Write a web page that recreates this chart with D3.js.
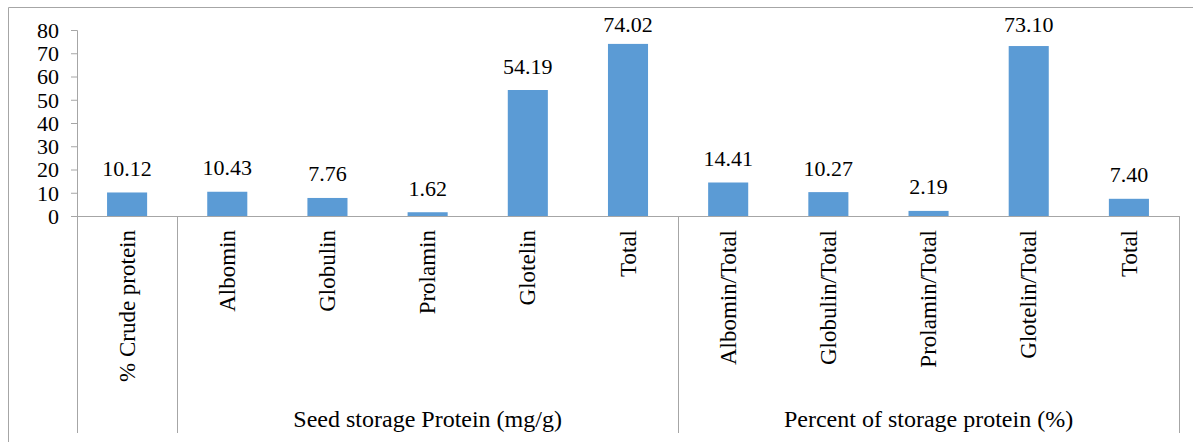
<!DOCTYPE html>
<html><head><meta charset="utf-8">
<script src="https://cdn.jsdelivr.net/npm/d3@7"></script>
<style>body{margin:0;background:#fff}svg{display:block}</style>
</head><body><svg id="c" width="1198" height="442"></svg>
<script>
const categories = ["% Crude protein","Albomin","Globulin","Prolamin","Glotelin","Total","Albomin/Total","Globulin/Total","Prolamin/Total","Glotelin/Total","Total "];
const values = [10.12,10.43,7.76,1.62,54.19,74.02,14.41,10.27,2.19,73.10,7.40];
const labels = ["10.12","10.43","7.76","1.62","54.19","74.02","14.41","10.27","2.19","73.10","7.40"];
const groups = [{name:"",from:0,to:0},{name:"Seed storage Protein (mg/g)",from:1,to:5},{name:"Percent of storage protein (%)",from:6,to:10}];
const yTicks = [0,10,20,30,40,50,60,70,80];

const FONT = "'Liberation Serif', 'Times New Roman', Times, serif";
const FS = "22px";
const svg = d3.select("#c");
const L=77, R=1179, T=30, B=216;
const x = d3.scaleBand().domain(d3.range(categories.length)).range([L,R]).paddingInner(0.6).paddingOuter(0.3);
const y = d3.scaleLinear().domain([0,80]).range([B,T]);
const grey="#a6a6a6";

// outer border (top & left)
svg.append("path").attr("d","M8.5,442 V7.5 H1193").attr("fill","none").attr("stroke",grey).attr("stroke-width",1);

// y axis
const ya = svg.append("g").attr("transform",`translate(${L},0)`).call(d3.axisLeft(y).tickValues(yTicks).tickSize(6).tickPadding(12));
ya.attr("font-family",null).attr("font-size",null);
ya.select(".domain").attr("stroke",grey);
ya.selectAll(".tick line").attr("stroke",grey);
ya.selectAll("text").style("font-size",FS).style("font-family",FONT).attr("fill","#000").attr("dy","0.34em");

// bars
svg.selectAll("rect.bar").data(values).join("rect").attr("class","bar")
  .attr("x",(d,i)=>x(i)).attr("width",x.bandwidth())
  .attr("y",d=>y(d)).attr("height",d=>B-y(d)).attr("fill","#5b9bd5");

// value labels
svg.selectAll("text.val").data(values).join("text").attr("class","val")
  .attr("x",(d,i)=>x(i)+x.bandwidth()/2).attr("y",d=>Math.max(y(d)-16.5, 31.5))
  .attr("text-anchor","middle").style("font-size",FS).style("font-family",FONT).text((d,i)=>labels[i]);

// x axis line
svg.append("line").attr("x1",L-6).attr("x2",R).attr("y1",B+0.5).attr("y2",B+0.5).attr("stroke",grey);

// separators
const step = x.step();
const seps = [L, L+step, L+6*step, R];
svg.selectAll("line.sep").data(seps).join("line").attr("class","sep")
  .attr("x1",d=>Math.round(d)+0.5).attr("x2",d=>Math.round(d)+0.5).attr("y1",B).attr("y2",433).attr("stroke",grey);

// category labels
svg.selectAll("text.cat").data(categories).join("text").attr("class","cat")
  .attr("transform",(d,i)=>`translate(${x(i)+x.bandwidth()/2},230) rotate(-90)`)
  .attr("text-anchor","end").attr("dy","0.33em").style("font-size","23px").style("font-family",FONT).text(d=>d.trim());

// group labels
svg.selectAll("text.grp").data(groups.filter(g=>g.name)).join("text").attr("class","grp")
  .attr("x",g=>(L+g.from*step + L+(g.to+1)*step)/2).attr("y",427)
  .attr("text-anchor","middle").style("font-size","24px").style("font-family",FONT).text(g=>g.name);
</script></body></html>
